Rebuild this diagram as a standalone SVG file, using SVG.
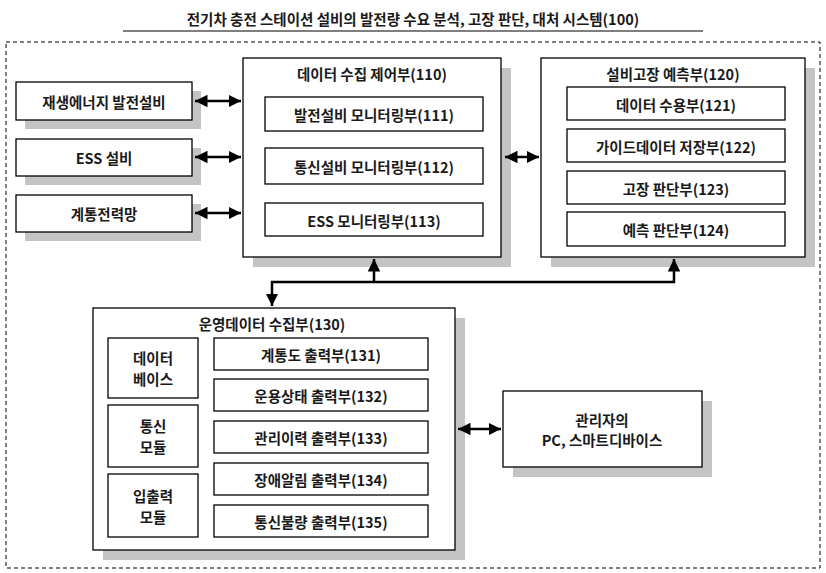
<svg xmlns="http://www.w3.org/2000/svg" width="826" height="573" viewBox="0 0 826 573">
<defs>
<marker id="a" viewBox="0 0 10 10" refX="10" refY="5" markerWidth="5" markerHeight="5" orient="auto-start-reverse"><path d="M0,0L10,5L0,10z" fill="#000"/></marker>
<style>
.b{fill:#fff;stroke:#000;stroke-width:1.3}
.s{fill:#c4c4c4}
text{font-family:"Noto Sans CJK KR","Liberation Serif",serif;font-size:14.5px;font-weight:bold;text-anchor:middle;dominant-baseline:central;fill:#1a1a1a}
.c{stroke:#000;stroke-width:2.5;fill:none}
</style>
</defs>
<rect width="826" height="573" fill="#fff"/>
<text x="413" y="18" font-size="15">전기차 충전 스테이션 설비의 발전량 수요 분석, 고장 판단, 대처 시스템(100)</text>
<line x1="123" y1="31" x2="703" y2="31" stroke="#000" stroke-width="1.2"/>
<rect x="6" y="42" width="814" height="526" fill="none" stroke="#000" stroke-dasharray="4,3"/>
<g id="n1"><rect class="s" x="25" y="91" width="176" height="38"/><rect class="b" x="16" y="82" width="176" height="38"/><text x="104" y="101">재생에너지 발전설비</text></g>
<g id="n2"><rect class="s" x="25" y="148" width="176" height="37"/><rect class="b" x="16" y="139" width="176" height="37"/><text x="104" y="157">ESS 설비</text></g>
<g id="n3"><rect class="s" x="25" y="204" width="176" height="37"/><rect class="b" x="16" y="195" width="176" height="37"/><text x="104" y="213">계통전력망</text></g>
<g id="n110"><rect class="s" x="253" y="68" width="258" height="199"/><rect class="b" x="243" y="58" width="258" height="199"/><text x="372" y="73">데이터 수집 제어부(110)</text>
<rect class="b" x="265" y="97" width="218" height="34"/><text x="374" y="114">발전설비 모니터링부(111)</text>
<rect class="b" x="265" y="148" width="218" height="36"/><text x="374" y="166">통신설비 모니터링부(112)</text>
<rect class="b" x="265" y="203" width="218" height="33"/><text x="374" y="220">ESS 모니터링부(113)</text></g>
<g id="n120"><rect class="s" x="551" y="68" width="264" height="199"/><rect class="b" x="541" y="58" width="264" height="199"/><text x="673" y="73">설비고장 예측부(120)</text>
<rect class="b" x="567" y="87" width="218" height="33"/><text x="676" y="104">데이터 수용부(121)</text>
<rect class="b" x="567" y="129" width="218" height="33"/><text x="676" y="146">가이드데이터 저장부(122)</text>
<rect class="b" x="567" y="171" width="218" height="33"/><text x="676" y="188">고장 판단부(123)</text>
<rect class="b" x="567" y="212" width="218" height="34"/><text x="676" y="229">예측 판단부(124)</text></g>
<g id="n130"><rect class="s" x="103" y="318" width="362" height="242"/><rect class="b" x="93" y="308" width="362" height="242"/><text x="272" y="323">운영데이터 수집부(130)</text>
<rect class="b" x="108" y="338" width="90" height="60"/><text x="153" y="357">데이터</text><text x="153" y="378">베이스</text>
<rect class="b" x="108" y="405" width="90" height="62"/><text x="153" y="425">통신</text><text x="153" y="446">모듈</text>
<rect class="b" x="108" y="474" width="90" height="63"/><text x="153" y="495">입출력</text><text x="153" y="516">모듈</text>
<rect class="b" x="214" y="338" width="214" height="32"/><text x="321" y="354">계통도 출력부(131)</text>
<rect class="b" x="214" y="379" width="214" height="32"/><text x="321" y="395">운용상태 출력부(132)</text>
<rect class="b" x="214" y="421" width="214" height="32"/><text x="321" y="437">관리이력 출력부(133)</text>
<rect class="b" x="214" y="463" width="214" height="32"/><text x="321" y="479">장애알림 출력부(134)</text>
<rect class="b" x="214" y="505" width="214" height="32"/><text x="321" y="521">통신불량 출력부(135)</text></g>
<g id="n140"><rect class="s" x="513" y="401" width="199" height="76"/><rect class="b" x="503" y="391" width="199" height="76"/><text x="602" y="419">관리자의</text><text x="602" y="439">PC, 스마트디바이스</text></g>
<g id="connectors">
<line class="c" x1="195" y1="101" x2="241" y2="101" marker-start="url(#a)" marker-end="url(#a)"/>
<line class="c" x1="195" y1="157" x2="241" y2="157" marker-start="url(#a)" marker-end="url(#a)"/>
<line class="c" x1="195" y1="213" x2="241" y2="213" marker-start="url(#a)" marker-end="url(#a)"/>
<line class="c" x1="505" y1="157" x2="539" y2="157" marker-start="url(#a)" marker-end="url(#a)"/>
<line class="c" x1="458" y1="429" x2="501" y2="429" marker-start="url(#a)" marker-end="url(#a)"/>
<polyline class="c" points="272,306 272,282 674,282 674,259" marker-start="url(#a)" marker-end="url(#a)"/>
<line class="c" x1="374" y1="282" x2="374" y2="259" marker-end="url(#a)"/>
</g>
</svg>
